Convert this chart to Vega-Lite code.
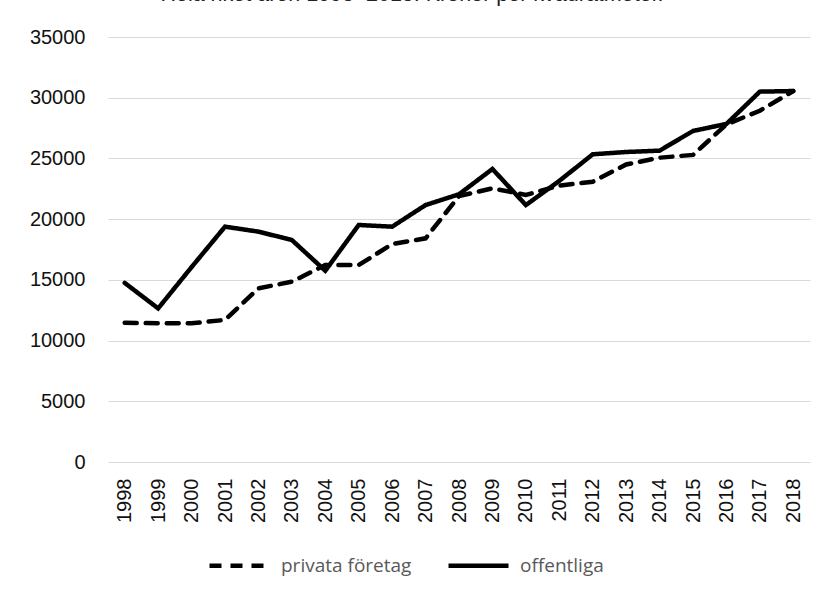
{
  "$schema": "https://vega.github.io/schema/vega-lite/v6.json",
  "autosize": "none",
  "width": 702,
  "height": 425,
  "padding": {"left": 108, "top": 37, "right": 21, "bottom": 137},
  "background": "white",
  "title": {
    "text": "Hela riket åren 1998–2018. Kronor per kvadratmeter.",
    "font": "Liberation Sans",
    "fontSize": 21.5,
    "fontWeight": "normal",
    "color": "#222222",
    "anchor": "middle",
    "baseline": "alphabetic",
    "offset": 5,
    "dx": -47
  },
  "data": {
    "values": [
      {"år": "1998", "serie": "privata företag", "värde": 11470},
      {"år": "1999", "serie": "privata företag", "värde": 11420},
      {"år": "2000", "serie": "privata företag", "värde": 11420},
      {"år": "2001", "serie": "privata företag", "värde": 11700},
      {"år": "2002", "serie": "privata företag", "värde": 14300},
      {"år": "2003", "serie": "privata företag", "värde": 14850},
      {"år": "2004", "serie": "privata företag", "värde": 16220},
      {"år": "2005", "serie": "privata företag", "värde": 16220},
      {"år": "2006", "serie": "privata företag", "värde": 17950},
      {"år": "2007", "serie": "privata företag", "värde": 18420},
      {"år": "2008", "serie": "privata företag", "värde": 21900},
      {"år": "2009", "serie": "privata företag", "värde": 22540},
      {"år": "2010", "serie": "privata företag", "värde": 21990},
      {"år": "2011", "serie": "privata företag", "värde": 22760},
      {"år": "2012", "serie": "privata företag", "värde": 23080},
      {"år": "2013", "serie": "privata företag", "värde": 24500},
      {"år": "2014", "serie": "privata företag", "värde": 25060},
      {"år": "2015", "serie": "privata företag", "värde": 25290},
      {"år": "2016", "serie": "privata företag", "värde": 27800},
      {"år": "2017", "serie": "privata företag", "värde": 28930},
      {"år": "2018", "serie": "privata företag", "värde": 30550},
      {"år": "1998", "serie": "offentliga", "värde": 14750},
      {"år": "1999", "serie": "offentliga", "värde": 12650},
      {"år": "2000", "serie": "offentliga", "värde": 16050},
      {"år": "2001", "serie": "offentliga", "värde": 19380},
      {"år": "2002", "serie": "offentliga", "värde": 18970},
      {"år": "2003", "serie": "offentliga", "värde": 18280},
      {"år": "2004", "serie": "offentliga", "värde": 15750},
      {"år": "2005", "serie": "offentliga", "värde": 19520},
      {"år": "2006", "serie": "offentliga", "värde": 19380},
      {"år": "2007", "serie": "offentliga", "värde": 21160},
      {"år": "2008", "serie": "offentliga", "värde": 22050},
      {"år": "2009", "serie": "offentliga", "värde": 24130},
      {"år": "2010", "serie": "offentliga", "värde": 21160},
      {"år": "2011", "serie": "offentliga", "värde": 23150},
      {"år": "2012", "serie": "offentliga", "värde": 25340},
      {"år": "2013", "serie": "offentliga", "värde": 25530},
      {"år": "2014", "serie": "offentliga", "värde": 25640},
      {"år": "2015", "serie": "offentliga", "värde": 27260},
      {"år": "2016", "serie": "offentliga", "värde": 27840},
      {"år": "2017", "serie": "offentliga", "värde": 30500},
      {"år": "2018", "serie": "offentliga", "värde": 30550}
    ]
  },
  "mark": {"type": "line", "color": "black", "strokeWidth": 4.5, "strokeCap": "round", "strokeJoin": "miter"},
  "encoding": {
    "x": {
      "field": "år",
      "type": "ordinal",
      "scale": {"type": "point", "padding": 0.5},
      "axis": {
        "title": null,
        "labelAngle": -90,
        "labelFont": "Liberation Sans",
        "labelFontSize": 20,
        "labelColor": "#111111",
        "labelPadding": 16,
        "ticks": false,
        "domain": false,
        "grid": false
      }
    },
    "y": {
      "field": "värde",
      "type": "quantitative",
      "scale": {"domain": [0, 35000], "nice": false, "zero": true},
      "axis": {
        "title": null,
        "values": [0, 5000, 10000, 15000, 20000, 25000, 30000, 35000],
        "format": "d",
        "labelFont": "Liberation Sans",
        "labelFontSize": 20,
        "labelColor": "#111111",
        "labelPadding": 23,
        "ticks": false,
        "domain": false,
        "grid": true,
        "gridColor": "#d9d9d9",
        "gridWidth": 1.2
      }
    },
    "strokeDash": {
      "field": "serie",
      "type": "nominal",
      "scale": {"domain": ["privata företag", "offentliga"], "range": [[12, 9], [1, 0]]},
      "legend": {
        "title": null,
        "orient": "none",
        "direction": "horizontal",
        "columns": 2,
        "legendX": 99,
        "legendY": 496,
        "padding": 0,
        "symbolType": "stroke",
        "symbolSize": 3600,
        "symbolStrokeWidth": 4.5,
        "symbolStrokeColor": "black",
        "labelFont": "Open Sans",
        "labelFontSize": 19,
        "labelColor": "#595959",
        "labelOffset": 9,
        "columnPadding": 27
      }
    }
  },
  "config": {
    "view": {"stroke": null}
  }
}
